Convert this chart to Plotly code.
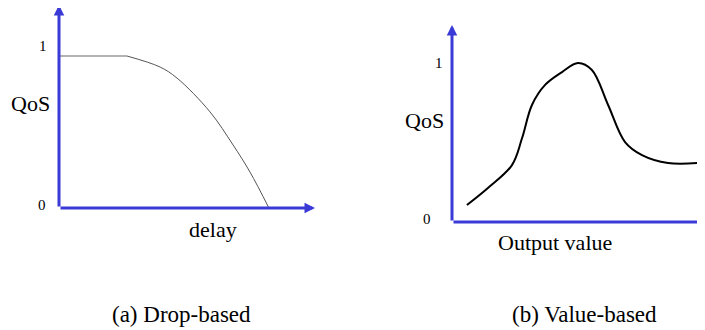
import plotly.graph_objects as go

# (a) drop-based: QoS vs delay
drop_flat_x = [0, 2.66]
drop_flat_y = [0.938, 0.938]
drop_x = [2.66, 3.95, 4.61, 5.90, 6.80, 7.46, 8.20]
drop_y = [0.938, 0.870, 0.802, 0.593, 0.389, 0.222, 0.0]

# (b) value-based: QoS vs output value
value_x = [0.59, 1.42, 2.37, 2.77, 3.16, 3.68, 4.35, 4.98, 5.53, 6.17, 6.84, 7.51, 8.54, 9.72]
value_y = [0.107, 0.214, 0.358, 0.528, 0.736, 0.862, 0.943, 1.0, 0.956, 0.736, 0.503, 0.421, 0.371, 0.371]

tick_labels = ["0", "1"]
captions = ["(a) Drop-based", "(b) Value-based"]

# the page body has an 8px margin, so the figure is drawn 8px in from the corner
OFF = 8
W, H = 705 - OFF, 330 - OFF
BLUE = "#3a3ad6"
FONT = "Liberation Serif"


def px_x(p):
    return (p - OFF) / W


def px_y(p):
    return 1 - (p - OFF) / H


fig = go.Figure()

fig.add_trace(go.Scatter(x=drop_flat_x, y=drop_flat_y, mode="lines",
                         line=dict(color="#9a9a9a", width=1.5), xaxis="x", yaxis="y"))
fig.add_trace(go.Scatter(x=drop_x, y=drop_y, mode="lines", line_shape="spline",
                         line=dict(color="#555555", width=1), xaxis="x", yaxis="y"))
fig.add_trace(go.Scatter(x=value_x, y=value_y, mode="lines", line_shape="spline",
                         line=dict(color="black", width=2), xaxis="x2", yaxis="y2"))

hidden = dict(visible=False, showgrid=False, zeroline=False, fixedrange=True)
fig.update_layout(
    width=W, height=H,
    margin=dict(l=0, r=0, t=0, b=0),
    paper_bgcolor="white", plot_bgcolor="white",
    showlegend=False,
    # left panel: 0 -> px 59, 10 -> px 315; QoS 0 -> px 208, 1 -> px 46
    xaxis=dict(domain=[px_x(8), px_x(330)], range=[(8 - 59) / 25.6, (330 - 59) / 25.6], **hidden),
    yaxis=dict(domain=[px_y(240), px_y(8)], range=[(208 - 240) / 162, (208 - 8) / 162], **hidden),
    # right panel: 0 -> px 452, 10 -> px 705; QoS 0 -> px 222, 1 -> px 63
    xaxis2=dict(domain=[px_x(400), 1.0], range=[(400 - 452) / 25.3, 10], anchor="y2", **hidden),
    yaxis2=dict(domain=[px_y(260), px_y(8)], range=[(222 - 260) / 159, (222 - 8) / 159],
                anchor="x2", **hidden),
)


# axis arrows
def arrow(xr, yr, x0, y0, x1, y1, head=2):
    fig.add_annotation(x=x1, y=y1, ax=x0, ay=y0, xref=xr, yref=yr, axref=xr, ayref=yr,
                       text="", showarrow=True, arrowhead=head, arrowsize=0.7,
                       arrowwidth=3, arrowcolor=BLUE, standoff=0, startstandoff=0)


arrow("x", "y", 0, 0, 0, (208 - 5) / 162)
arrow("x", "y", 0, 0, 10, 0)
arrow("x2", "y2", 0, 0, 0, (222 - 25) / 159)
arrow("x2", "y2", 0, 0, 10, 0, head=0)


def label(xr, yr, x, y, text, size):
    fig.add_annotation(x=x, y=y, xref=xr, yref=yr, text=text, showarrow=False,
                       xanchor="center", yanchor="middle",
                       font=dict(family=FONT, size=size, color="black"))


label("x", "y", -0.63, 1.0, tick_labels[1], 15)
label("x", "y", -0.66, 0.02, tick_labels[0], 15)
label("x", "y", -1.13, 0.648, "QoS", 22)
label("x", "y", 6.02, -0.13, "delay", 22)

label("x2", "y2", -0.51, 1.0, tick_labels[1], 15)
label("x2", "y2", -0.99, 0.02, tick_labels[0], 15)
label("x2", "y2", -1.07, 0.64, "QoS", 22)
label("x2", "y2", 4.07, -0.126, "Output value", 22)

label("paper", "paper", px_x(181), px_y(314), captions[0], 23)
label("paper", "paper", px_x(584), px_y(314), captions[1], 23)

fig.write_html("out.html")
